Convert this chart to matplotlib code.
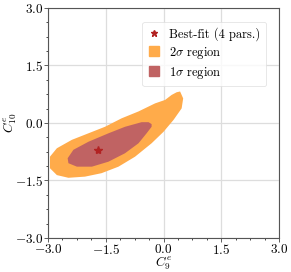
import numpy as np
import matplotlib
matplotlib.use("Agg")
import matplotlib.pyplot as plt
from matplotlib.lines import Line2D

plt.rcParams["font.family"] = "serif"
plt.rcParams["font.serif"] = ["cmr10"]
plt.rcParams["mathtext.fontset"] = "cm"
plt.rcParams["axes.formatter.use_mathtext"] = True
plt.rcParams["axes.unicode_minus"] = True

# 2 sigma region boundary (C9, C10)
c9_2sig = [0.43, 0.51, 0.47, 0.26, 0.00, -0.31, -0.74, -1.17, -1.61, -2.04,
           -2.47, -2.77, -2.95, -2.95, -2.77, -2.38, -1.95, -1.52, -1.09,
           -0.65, -0.22, 0.04, 0.21, 0.34]
c10_2sig = [0.82, 0.64, 0.38, 0.08, -0.23, -0.53, -0.88, -1.14, -1.31, -1.40,
            -1.43, -1.36, -1.18, -0.88, -0.66, -0.44, -0.27, -0.10, 0.12,
            0.30, 0.51, 0.60, 0.73, 0.80]

# 1 sigma region boundary
c9_1sig = [-0.31, -0.39, -0.57, -1.00, -1.43, -1.95, -2.34, -2.49, -2.47,
           -2.25, -1.86, -1.43, -1.00, -0.65, -0.44, -0.31]
c10_1sig = [-0.03, 0.02, 0.02, -0.10, -0.27, -0.49, -0.70, -0.92, -1.05,
            -1.14, -1.14, -1.01, -0.79, -0.53, -0.27, -0.10]

best_fit = (-1.70, -0.70)

ticks = [-3.0, -1.5, 0.0, 1.5, 3.0]

col_2sig = "#ffab4a"
col_1sig = "#c06363"
col_star = "#b22222"

fig = plt.figure(figsize=(2.91, 2.72), dpi=100)
ax = fig.add_axes([0.165, 0.125, 0.794, 0.846])

ax.fill(c9_2sig, c10_2sig, color=col_2sig, lw=0, zorder=2)
ax.fill(c9_1sig, c10_1sig, color=col_1sig, lw=0, zorder=3)
ax.plot(best_fit[0], best_fit[1], marker="*", color=col_star, ms=6,
        ls="none", zorder=4)

ax.set_xlim(-3, 3)
ax.set_ylim(-3, 3)
ax.set_xticks(ticks)
ax.set_yticks(ticks)
ax.set_xticklabels([f"${t:.1f}$" for t in ticks])
ax.set_yticklabels([f"${t:.1f}$" for t in ticks])
ax.set_xticks(np.arange(-3, 3.01, 0.375), minor=True)
ax.set_yticks(np.arange(-3, 3.01, 0.375), minor=True)
ax.tick_params(labelsize=9.5, length=3, width=0.6, color="#444444", pad=0.5)
ax.tick_params(which="minor", length=1.5, width=0.5)
ax.grid(True, color="#dddddd", lw=0.9, zorder=0)
ax.set_axisbelow(True)
for sp in ax.spines.values():
    sp.set_color("#555555")
    sp.set_linewidth(0.8)

ax.set_xlabel(r"$C_9^e$", fontsize=9.5, labelpad=-1.5)
ax.set_ylabel(r"$C_{10}^e$", fontsize=9.5, labelpad=-3)

handles = [
    Line2D([], [], marker="*", color=col_star, ls="none", ms=5),
    Line2D([], [], marker="s", color=col_2sig, ls="none", ms=7),
    Line2D([], [], marker="s", color=col_1sig, ls="none", ms=7),
]
labels = ["Best-fit (4 pars.)", r"$2\sigma$ region", r"$1\sigma$ region"]
leg = ax.legend(handles, labels, loc="upper right", fontsize=9,
                bbox_to_anchor=(0.944, 0.94), borderaxespad=0,
                handletextpad=0.7, handlelength=1.0, labelspacing=0.3,
                borderpad=0.45, fancybox=True, framealpha=0.8)
leg.get_frame().set_edgecolor("#dddddd")
leg.get_frame().set_linewidth(0.6)

fig.savefig("out.png", dpi=100)
